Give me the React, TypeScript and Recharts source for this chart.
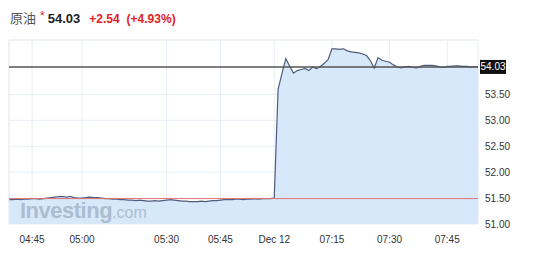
import React from "react";
import { AreaChart, Area, XAxis, YAxis, CartesianGrid, ReferenceLine } from "recharts";

// trading minutes shown on the axis (gaps = minutes with no bars)
const sessions: [string, string][] = [
	["04:39", "04:51"],
	["04:53", "04:55"],
	["04:57", "05:08"],
	["05:17", "05:37"],
	["05:39", "05:58"],
	["07:00", "07:53"],
];

const prices: number[] = [
	51.47, 51.47, 51.48, 51.47, 51.48, 51.48, 51.49, 51.49, 51.48, 51.49,
	51.5, 51.51, 51.52, 51.53, 51.53, 51.52, 51.53, 51.51, 51.5, 51.5,
	51.51, 51.52, 51.51, 51.51, 51.5, 51.49, 51.49, 51.48, 51.48, 51.47,
	51.47, 51.46, 51.46, 51.45, 51.46, 51.45, 51.44, 51.44, 51.45, 51.44,
	51.45, 51.46, 51.47, 51.46, 51.45, 51.44, 51.44, 51.43, 51.43, 51.43,
	51.44, 51.43, 51.44, 51.45, 51.45, 51.46, 51.47, 51.47, 51.47, 51.48,
	51.48, 51.47, 51.48, 51.48, 51.49, 51.48, 51.49, 51.49, 51.49,
	// Dec 12
	51.5, 53.6, 53.9, 54.19, 54.05, 53.91, 53.96, 53.98, 54.0, 53.96,
	54.03, 54.0, 54.04, 54.1, 54.17, 54.38, 54.38, 54.37, 54.38, 54.34,
	54.32, 54.31, 54.3, 54.28, 54.25, 54.15, 54.01, 54.21, 54.16, 54.14,
	54.12, 54.07, 54.03, 54.01, 54.03, 54.04, 54.02, 54.01, 54.04, 54.06,
	54.06, 54.06, 54.05, 54.03, 54.02, 54.04, 54.04, 54.05, 54.05, 54.04,
	54.04, 54.03, 54.03, 54.03,
];

const xTickLabels = ["04:45", "05:00", "05:30", "05:45", "07:00", "07:15", "07:30", "07:45"];
const dayBreaks: Record<string, string> = { "07:00": "Dec 12" };
const yTicks = [51, 51.5, 52, 52.5, 53, 53.5];
const yDomain: [number, number] = [51, 54.55];

const lastPrice = 54.03;
const prevClose = 51.49;
const change = "+2.54";
const changePct = "(+4.93%)";
const title = "原油";

const toMin = (s: string) => {
	const [h, m] = s.split(":").map(Number);
	return h * 60 + m;
};
const fmt = (m: number) => `${String(Math.floor(m / 60)).padStart(2, "0")}:${String(m % 60).padStart(2, "0")}`;

const times: string[] = [];
sessions.forEach(([a, b]) => {
	for (let m = toMin(a); m <= toMin(b); m++) times.push(fmt(m));
});

const data = times.map((t, i) => ({ i, t, price: prices[i] }));
const xTicks = xTickLabels.map((l) => times.indexOf(l));

const font = '"Liberation Sans", Arial, Helvetica, sans-serif';

const LastPriceTag = (props: any) => {
	const { viewBox } = props;
	const x = viewBox.x + viewBox.width + 2;
	const y = viewBox.y;
	return (
		<g>
			<rect x={x} y={y - 7} width={26} height={14} fill="#111" />
			<text x={x + 13} y={y + 3.5} textAnchor="middle" fill="#fff" fontSize={10} fontFamily={font}>
				{lastPrice.toFixed(2)}
			</text>
		</g>
	);
};

export default function App() {
	return (
		<div style={{ position: "absolute", left: 0, top: 0, width: 534, height: 254, background: "#fff", fontFamily: font }}>
			<div style={{ position: "absolute", left: 10, top: 10, fontSize: 13, lineHeight: "16px", whiteSpace: "nowrap" }}>
				<span style={{ color: "#555", fontFamily: '"Noto Sans CJK SC", sans-serif' }}>{title}</span>
				<span style={{ color: "#e0231f", fontSize: 12, position: "relative", top: -3, marginLeft: 4 }}>*</span>
				<span style={{ color: "#222", fontWeight: "bold", marginLeft: 3 }}>{lastPrice.toFixed(2)}</span>
				<span style={{ color: "#e0231f", fontWeight: "bold", fontSize: 12, marginLeft: 9 }}>{change}</span>
				<span style={{ color: "#e0231f", fontWeight: "bold", fontSize: 12, marginLeft: 7 }}>{changePct}</span>
			</div>
			<AreaChart width={534} height={254} data={data} margin={{ top: 40, right: 0, bottom: 0, left: 9 }}>
				<Area
					type="linear"
					dataKey="price"
					stroke="#4d5b7a"
					strokeWidth={1.2}
					fill="#d8e8fb"
					fillOpacity={1}
					isAnimationActive={false}
					dot={false}
					activeDot={false}
				/>
				<CartesianGrid stroke="#e4ecf5" strokeOpacity={0.9} />
				<XAxis
					dataKey="i"
					type="number"
					domain={[0, times.length - 1]}
					ticks={xTicks}
					tickFormatter={(v: number) => dayBreaks[times[v]] ?? times[v]}
					axisLine={false}
					tickLine={false}
					height={30}
					tickMargin={6}
					tick={{ fontSize: 10, fill: "#333", fontFamily: font }}
				/>
				<YAxis
					orientation="right"
					domain={yDomain}
					allowDataOverflow
					ticks={yTicks}
					tickFormatter={(v: number) => v.toFixed(2)}
					axisLine={false}
					tickLine={false}
					width={56}
					tickMargin={1}
					tick={{ fontSize: 10, fill: "#333", fontFamily: font }}
				/>
				<ReferenceLine y={yDomain[1]} stroke="#e8edf3" />
				<ReferenceLine x={0} stroke="#e8edf3" />
				<ReferenceLine y={prevClose} stroke="#e07474" strokeWidth={1} />
				<ReferenceLine y={lastPrice} stroke="#555" strokeWidth={1.5} label={<LastPriceTag />} />
			</AreaChart>
			<div style={{ position: "absolute", left: 20, top: 198, whiteSpace: "nowrap", color: "#acbdd0", pointerEvents: "none" }}>
				<span style={{ fontSize: 22, fontWeight: "bold", letterSpacing: -0.5 }}>Investing</span>
				<span style={{ fontSize: 16 }}>.com</span>
			</div>
		</div>
	);
}
